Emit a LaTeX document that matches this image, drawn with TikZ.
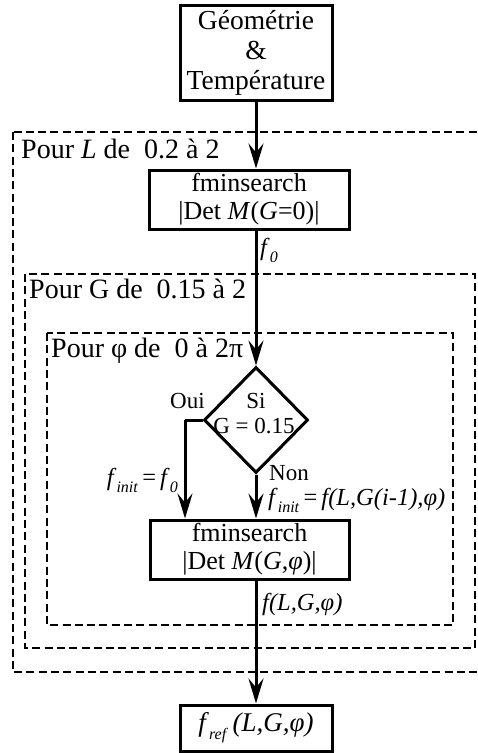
\documentclass[tikz,border=0pt]{standalone}
\usepackage{fontspec}
\setmainfont{Liberation Serif}
\usetikzlibrary{arrows.meta,shapes.geometric}
\newcommand\geotxt{\fontsize{27.5}{30}\selectfont}
\newcommand\bigtxt{\fontsize{26}{28}\selectfont}
\newcommand\pourtxt{\fontsize{28}{30}\selectfont}
\newcommand\smtxt{\fontsize{23}{26}\selectfont}
\newcommand\ittxt{\fontsize{24.5}{26}\selectfont}
\newcommand\subit[1]{\raisebox{-0.3em}{\fontsize{16}{16}\selectfont\textit{#1}}}
\begin{document}
\begin{tikzpicture}[x=1pt,y=-1pt,
  solidline/.style={line width=3pt},
  arr/.style={solidline,-{Stealth[length=25pt,width=15pt,inset=9pt]}},
  loopbox/.style={draw,line width=2.4pt,dash pattern=on 8pt off 4.3pt},
  procbox/.style={draw,line width=3pt,rectangle,inner sep=0pt,align=center,font=\bigtxt},
  lbl/.style={inner sep=0pt,font=\smtxt},
  itlbl/.style={inner sep=0pt,font=\ittxt},
  pourlbl/.style={inner sep=0pt,font=\pourtxt,anchor=base west}]
\useasboundingbox (0,0) rectangle (477,753);
\clip (0,0) rectangle (477,753);
% loop boxes
\draw[loopbox] (13,132) rectangle (492,672);
\draw[loopbox] (25,274) rectangle (475,648);
\draw[loopbox] (47,333) rectangle (453,625);
\node[pourlbl] (pL) at (21,158) {Pour \textit{L} de\ \ 0.2 à 2};
\node[pourlbl] (pG) at (29,298) {Pour G de\ \ 0.15 à 2};
\node[pourlbl] (pP) at (51,357) {Pour φ de\ \ 0 à 2π};
% process nodes
\node[procbox,font=\geotxt,minimum width=152pt,minimum height=95pt] (geo) at (256,52.5)
  {Géométrie\\\&\\Température};
\node[procbox,minimum width=200pt,minimum height=59pt] (fm1) at (249,199.5)
  {fminsearch\\|Det \textit{M}(\textit{G}=0)|};
\node[draw,solidline,diamond,minimum width=104pt,minimum height=106pt,inner sep=0pt] (si) at (256,420) {};
\node[procbox,minimum width=199pt,minimum height=59pt] (fm2) at (249.5,549.5)
  {fminsearch\\|Det \textit{M}(\textit{G},\textit{φ})|};
\node[procbox,font=\fontsize{27}{30}\selectfont,minimum width=152pt,minimum height=46pt] (fref) at (256,728)
  {\textit{f}\subit{ref}\,\textit{(L,G,φ)}};
% diamond text
\node[lbl,anchor=base] (sit) at (256,408) {Si};
\node[lbl,anchor=base] (sig) at (254,433) {G = 0.15};
\node[lbl,anchor=base west] (oui) at (170,408) {Oui};
\node[lbl,anchor=base west] (non) at (269,480) {Non};
% connectors
\coordinate (corner) at (185,420);
\draw[arr] (geo.south) -- (geo.south |- fm1.north);
\draw[arr] (si.north |- fm1.south) -- (si.north);
\draw[solidline] (si.west) -- (corner);
\draw[arr] (corner) -- (corner |- fm2.north);
\draw[arr] (si.south) -- (si.south |- fm2.north);
\draw[arr] (si.south |- fm2.south) -- (fref.north);
% edge labels
\node[itlbl,anchor=base west] (lf0) at (260,255) {\textit{f}\subit{0}};
\node[itlbl,anchor=base east] (lfi1) at (178,485) {\textit{f}\subit{init}\,=\,\textit{f}\subit{0}};
\node[itlbl,anchor=base west] (lfi2) at (268,505) {\textit{f}\subit{init}\,=\,\textit{f(L,G(i-1),φ)}};
\node[itlbl,anchor=base west] (lfl) at (262,610) {\textit{f(L,G,φ)}};
\end{tikzpicture}
\end{document}
